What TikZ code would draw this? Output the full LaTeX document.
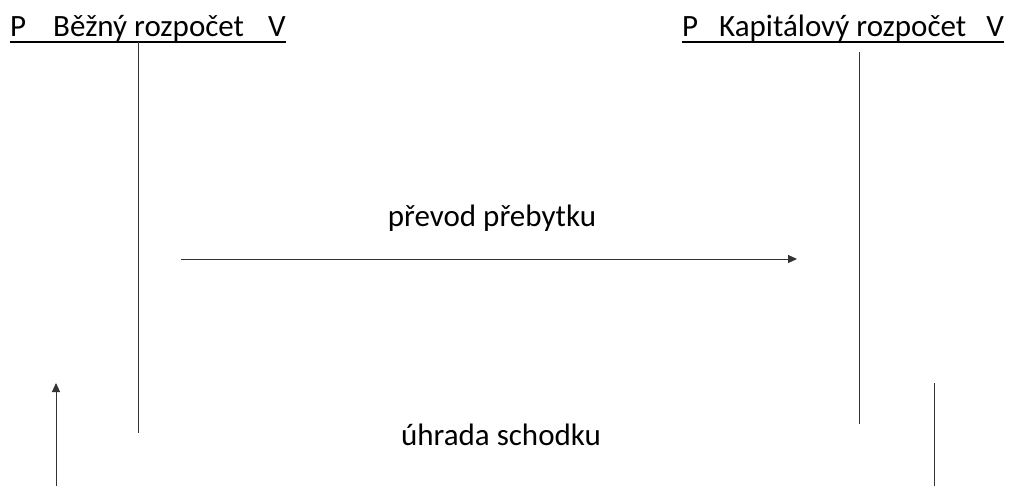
\documentclass[tikz,border=0pt]{standalone}
\usepackage{fontspec}
\setmainfont{Carlito}
\usetikzlibrary{arrows.meta}

\begin{document}
\begin{tikzpicture}[x=1pt, y=-1pt, every node/.style={inner sep=0pt, anchor=base, font=\fontsize{31}{36}\selectfont},
    rule/.style={line width=1.5pt},
    tline/.style={line width=1pt, draw=black!80},
    flow/.style={line width=1pt, draw=black!80, -{Triangle[length=9pt, width=8pt]}}]
    \useasboundingbox (0,0) rectangle (1011,486);

    % Titles
    \node[anchor=base west] (bezny) at (10,37) {P\hspace{27pt}Běžný rozpočet\hspace{24pt}V};
    \node[anchor=base west] (kapital) at (682,37) {P\hspace{21pt}Kapitálový rozpočet\hspace{20pt}V};
    \draw[rule] ([yshift=-5pt]bezny.base west) -- ([yshift=-5pt]bezny.base east);
    \draw[rule] ([yshift=-5pt]kapital.base west) -- ([yshift=-5pt]kapital.base east);

    % T-account lines
    \coordinate (b1) at (138,42);
    \coordinate (b2) at (138,433);
    \coordinate (k1) at (859,52);
    \coordinate (k2) at (859,424);
    \draw[tline] (b1) -- (b2);
    \draw[tline] (k1) -- (k2);

    % Transfers
    \coordinate (p1) at (181,259);
    \coordinate (p2) at (797,259);
    \draw[flow] (p1) -- (p2);
    \node (prevod) at (492,227) {převod přebytku};

    \coordinate (u1) at (934,383);
    \coordinate (u2) at (934,486);
    \coordinate (u3) at (56,486);
    \coordinate (u4) at (56,383);
    \draw[tline] (u1) -- (u2);
    \draw[flow] (u3) -- (u4);
    \node (uhrada) at (501,445) {úhrada schodku};
\end{tikzpicture}
\end{document}
